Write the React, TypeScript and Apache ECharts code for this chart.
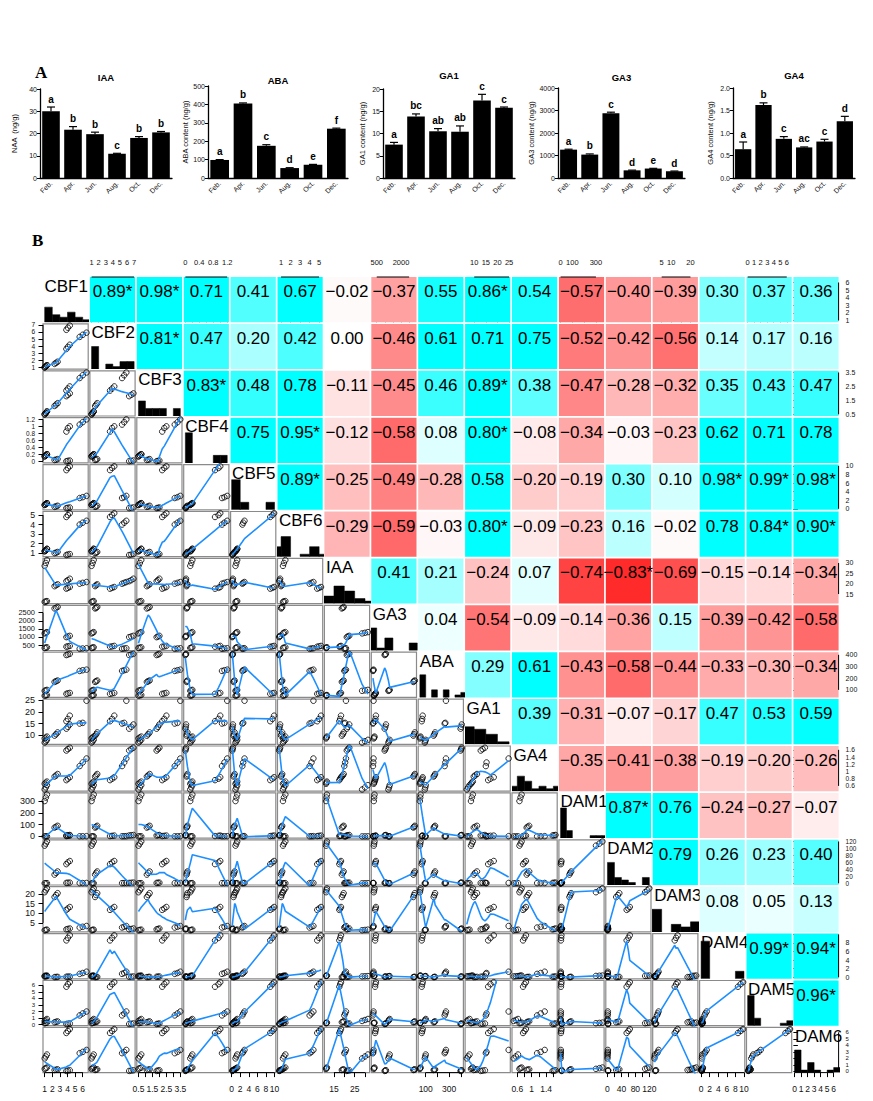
import React, { useEffect, useRef } from "react";
import * as echarts from "echarts";

const FONT = "'Liberation Sans', Arial, Helvetica, sans-serif";
const SERIF = "'Liberation Serif', 'Times New Roman', serif";

// ---------------- Panel A data ----------------
const MONTHS = ["Feb.", "Apr.", "Jun.", "Aug.", "Oct.", "Dec."];
const IAA_MEAN = [30.0, 21.7, 19.7, 10.9, 18.0, 20.5];
const IAA_SE = [1.9, 1.4, 0.9, 0.2, 0.6, 0.4];
const IAA_LETTERS = ["a", "b", "b", "c", "b", "b"];
const ABA_MEAN = [98, 405, 175, 54, 72, 268];
const ABA_SE = [2, 3, 6, 2, 2, 3];
const ABA_LETTERS = ["a", "b", "c", "d", "e", "f"];
const GA1_MEAN = [7.5, 13.8, 10.5, 10.4, 17.4, 15.8];
const GA1_SE = [0.5, 0.6, 0.6, 1.3, 1.4, 0.15];
const GA1_LETTERS = ["a", "bc", "ab", "ab", "c", "c"];
const GA3_MEAN = [1260, 1040, 2880, 340, 420, 300];
const GA3_SE = [20, 30, 45, 10, 10, 10];
const GA3_LETTERS = ["a", "b", "c", "d", "e", "d"];
const GA4_MEAN = [0.64, 1.62, 0.87, 0.68, 0.81, 1.26];
const GA4_SE = [0.16, 0.05, 0.05, 0.01, 0.05, 0.11];
const GA4_LETTERS = ["a", "b", "c", "ac", "c", "d"];

const PANELS = [
  { title: "IAA", yName: "NAA  (ng/g)", mean: IAA_MEAN, se: IAA_SE, letters: IAA_LETTERS, max: 40, interval: 10, dec: 0 },
  { title: "ABA", yName: "ABA content (ng/g)", mean: ABA_MEAN, se: ABA_SE, letters: ABA_LETTERS, max: 500, interval: 100, dec: 0 },
  { title: "GA1", yName: "GA1 content (ng/g)", mean: GA1_MEAN, se: GA1_SE, letters: GA1_LETTERS, max: 20, interval: 5, dec: 0 },
  { title: "GA3", yName: "GA3 content (ng/g)", mean: GA3_MEAN, se: GA3_SE, letters: GA3_LETTERS, max: 4000, interval: 1000, dec: 0 },
  { title: "GA4", yName: "GA4 content (ng/g)", mean: GA4_MEAN, se: GA4_SE, letters: GA4_LETTERS, max: 2, interval: 0.5, dec: 1 },
];

// layout of panel A (pixels)
const A_LAYOUT = [
  { left: 40, top: 89, width: 132, height: 89, nameGap: 22, titleY: 72 },
  { left: 208, top: 86, width: 140, height: 92, nameGap: 19, titleY: 75 },
  { left: 383, top: 89, width: 132, height: 89, nameGap: 17, titleY: 70 },
  { left: 558, top: 88, width: 127, height: 90, nameGap: 23, titleY: 72 },
  { left: 733, top: 88, width: 122, height: 90, nameGap: 19, titleY: 70 },
];

// ---------------- Panel B data ----------------
// samples: Feb x3, Apr x3, Jun x3, Aug x3, Oct x3, Dec x3
const VARS = ["CBF1", "CBF2", "CBF3", "CBF4", "CBF5", "CBF6", "IAA", "GA3", "ABA", "GA1", "GA4", "DAM1", "DAM2", "DAM3", "DAM4", "DAM5", "DAM6"];
const S_CBF1 = [1.0, 1.15, 1.3, 3.85, 4.05, 4.3, 2.3, 2.5, 2.7, 1.0, 1.15, 1.3, 3.85, 4.05, 4.3, 5.6, 6.0, 6.5];
const S_CBF2 = [1.0, 1.15, 1.3, 6.3, 6.6, 6.9, 1.5, 1.65, 1.8, 1.0, 1.15, 1.3, 3.6, 3.9, 4.2, 5.3, 5.6, 5.9];
const S_CBF3 = [0.5, 0.6, 0.7, 1.8, 1.9, 2.0, 1.1, 1.2, 1.3, 0.5, 0.6, 0.7, 2.2, 2.35, 2.5, 3.1, 3.3, 3.5];
const S_CBF4 = [0.14, 0.17, 0.2, 0.0, 0.01, 0.02, 0.035, 0.045, 0.06, 0.14, 0.17, 0.2, 0.85, 0.95, 1.0, 1.05, 1.12, 1.2];
const S_CBF5 = [0.9, 1.1, 1.3, 0.15, 0.22, 0.3, 0.45, 0.55, 0.7, 0.9, 1.1, 1.3, 9.0, 9.5, 9.9, 2.5, 2.7, 3.0];
const S_CBF6 = [1.2, 1.3, 1.45, 0.8, 0.85, 0.9, 1.0, 1.05, 1.12, 1.2, 1.3, 1.45, 4.8, 5.0, 5.2, 4.0, 4.2, 4.4];
const S_IAA = [28.6, 30.0, 31.4, 21.2, 21.7, 22.4, 18.8, 19.3, 19.7, 11.2, 11.4, 11.6, 17.6, 18.0, 18.4, 20.0, 20.4, 20.8];
const S_GA3 = [1220, 1260, 1300, 990, 1030, 1070, 2760, 2800, 2850, 320, 340, 365, 400, 420, 450, 270, 290, 305];
const S_ABA = [92, 96, 100, 398, 403, 408, 168, 174, 180, 50, 53, 56, 66, 70, 74, 262, 268, 273];
const S_GA1 = [6.8, 7.4, 8.0, 12.8, 13.6, 14.6, 9.8, 10.4, 11.2, 8.6, 9.0, 9.4, 16.0, 17.0, 18.4, 15.0, 15.3, 24.8];
const S_GA4 = [0.5, 0.56, 0.62, 1.58, 1.62, 1.66, 0.86, 0.89, 0.93, 0.66, 0.69, 0.72, 0.76, 0.8, 0.84, 1.15, 1.25, 1.36];
const S_DAM1 = [0, 0.3, 0.6, 8, 10, 12, 75, 82, 90, 300, 330, 355, 3, 5, 7, 1, 1.5, 2.2];
const S_DAM2 = [0, 0.2, 0.4, 1.2, 1.6, 2.0, 25, 30, 34, 108, 114, 120, 55, 60, 64, 0.6, 0.8, 1.0];
const S_DAM3 = [1.2, 1.35, 1.5, 1.65, 1.85, 2.1, 18.5, 19.5, 20.5, 21, 22, 23, 11.8, 12.5, 13.3, 2.6, 3.0, 3.4];
const S_DAM4 = [0.2, 0.24, 0.28, 0.12, 0.15, 0.18, 0.04, 0.07, 0.1, 0.32, 0.36, 0.4, 8.6, 9.2, 9.8, 0.8, 1.0, 1.3];
const S_DAM5 = [0.55, 0.7, 0.85, 0.08, 0.12, 0.16, 0.35, 0.42, 0.48, 0.2, 0.25, 0.3, 5.8, 6.2, 6.5, 1.4, 1.7, 2.0];
const S_DAM6 = [2.0, 2.3, 2.6, 0.08, 0.13, 0.18, 0.22, 0.27, 0.32, 0.4, 0.5, 0.6, 5.9, 6.2, 6.5, 2.8, 3.0, 3.3];
const SAMPLES = [S_CBF1, S_CBF2, S_CBF3, S_CBF4, S_CBF5, S_CBF6, S_IAA, S_GA3, S_ABA, S_GA1, S_GA4, S_DAM1, S_DAM2, S_DAM3, S_DAM4, S_DAM5, S_DAM6];

const TICKS = [
  [1, 2, 3, 4, 5, 6],
  [1, 2, 3, 4, 5, 6, 7],
  [0.5, 1, 1.5, 2, 2.5, 3, 3.5],
  [0, 0.2, 0.4, 0.6, 0.8, 1, 1.2],
  [0, 2, 4, 6, 8, 10],
  [1, 2, 3, 4, 5],
  [15, 20, 25, 30],
  [500, 1000, 1500, 2000, 2500],
  [100, 200, 300, 400],
  [10, 15, 20, 25],
  [0.6, 0.8, 1, 1.2, 1.4, 1.6],
  [0, 100, 200, 300],
  [0, 20, 40, 60, 80, 100, 120],
  [5, 10, 15, 20],
  [0, 2, 4, 6, 8, 10],
  [0, 1, 2, 3, 4, 5, 6],
  [0, 1, 2, 3, 4, 5, 6],
];
const H_LABELS = [
  [1, 2, 3, 4, 5, 6],
  [1, 2, 3, 4, 5, 6, 7],
  [0.5, 1.5, 2.5, 3.5],
  [0, 0.4, 0.8, 1.2],
  [0, 2, 4, 6, 8, 10],
  [1, 2, 3, 4, 5],
  [15, 25],
  [500, 2000],
  [100, 300],
  [10, 15, 20, 25],
  [0.6, 1, 1.4],
  [0, 100, 300],
  [0, 40, 80, 120],
  [5, 10, 20],
  [0, 2, 4, 6, 8, 10],
  [0, 1, 2, 3, 4, 5, 6],
  [0, 1, 2, 3, 4, 5, 6],
];
const V_LABELS = [
  [1, 2, 3, 4, 5, 6],
  [1, 2, 3, 4, 5, 6, 7],
  [0.5, 1.5, 2.5, 3.5],
  [0, 0.2, 0.4, 0.6, 0.8, 1, 1.2],
  [0, 2, 4, 6, 8, 10],
  [1, 2, 3, 4, 5],
  [15, 20, 25, 30],
  [500, 1000, 1500, 2000, 2500],
  [100, 200, 300, 400],
  [10, 15, 20, 25],
  [0.6, 0.8, 1, 1.2, 1.4, 1.6],
  [0, 100, 200, 300],
  [0, 20, 40, 60, 80, 100, 120],
  [5, 10, 15, 20],
  [0, 2, 4, 6, 8],
  [0, 1, 2, 3, 4, 5, 6],
  [0, 1, 2, 3, 4, 5, 6],
];

// correlation coefficients shown in the upper triangle (row i, columns i+1..16)
const COR = [
  ["0.89*", "0.98*", "0.71", "0.41", "0.67", "\u22120.02", "\u22120.37", "0.55", "0.86*", "0.54", "\u22120.57", "\u22120.40", "\u22120.39", "0.30", "0.37", "0.36"],
  ["0.81*", "0.47", "0.20", "0.42", "0.00", "\u22120.46", "0.61", "0.71", "0.75", "\u22120.52", "\u22120.42", "\u22120.56", "0.14", "0.17", "0.16"],
  ["0.83*", "0.48", "0.78", "\u22120.11", "\u22120.45", "0.46", "0.89*", "0.38", "\u22120.47", "\u22120.28", "\u22120.32", "0.35", "0.43", "0.47"],
  ["0.75", "0.95*", "\u22120.12", "\u22120.58", "0.08", "0.80*", "\u22120.08", "\u22120.34", "\u22120.03", "\u22120.23", "0.62", "0.71", "0.78"],
  ["0.89*", "\u22120.25", "\u22120.49", "\u22120.28", "0.58", "\u22120.20", "\u22120.19", "0.30", "0.10", "0.98*", "0.99*", "0.98*"],
  ["\u22120.29", "\u22120.59", "\u22120.03", "0.80*", "\u22120.09", "\u22120.23", "0.16", "\u22120.02", "0.78", "0.84*", "0.90*"],
  ["0.41", "0.21", "\u22120.24", "0.07", "\u22120.74", "\u22120.83*", "\u22120.69", "\u22120.15", "\u22120.14", "\u22120.34"],
  ["0.04", "\u22120.54", "\u22120.09", "\u22120.14", "\u22120.36", "0.15", "\u22120.39", "\u22120.42", "\u22120.58"],
  ["0.29", "0.61", "\u22120.43", "\u22120.58", "\u22120.44", "\u22120.33", "\u22120.30", "\u22120.34"],
  ["0.39", "\u22120.31", "\u22120.07", "\u22120.17", "0.47", "0.53", "0.59"],
  ["\u22120.35", "\u22120.41", "\u22120.38", "\u22120.19", "\u22120.20", "\u22120.26"],
  ["0.87*", "0.76", "\u22120.24", "\u22120.27", "\u22120.07"],
  ["0.79", "0.26", "0.23", "0.40"],
  ["0.08", "0.05", "0.13"],
  ["0.99*", "0.94*"],
  ["0.96*"],
];

// ---------------- helpers ----------------
function fmtNum(v: any) {
  return String(parseFloat(Number(v).toFixed(6)));
}
function extRange(v: number[]) {
  const mn = Math.min(...v), mx = Math.max(...v);
  const d = (mx - mn) * 0.04;
  return [mn - d, mx + d];
}
function corColor(v: number) {
  if (v >= 0) {
    const t = Math.min(1, v / 0.6);
    const g = Math.round(255 * (1 - t));
    return `rgb(${g},255,255)`;
  }
  const t = Math.min(1, -v);
  const g = Math.round(255 * (1 - t));
  return `rgb(255,${g},${g})`;
}
function prettyBreaks(lo: number, up: number, ndiv: number) {
  const h = 1.5, h5 = 0.5 + 1.5 * h;
  const dx = up - lo;
  const cell = dx === 0 ? Math.max(Math.abs(lo), 1) : dx / ndiv;
  const base = Math.pow(10, Math.floor(Math.log10(cell)));
  let unit = base;
  if (2 * base - cell < h * (cell - unit)) {
    unit = 2 * base;
    if (5 * base - cell < h5 * (cell - unit)) {
      unit = 5 * base;
      if (10 * base - cell < h * (cell - unit)) unit = 10 * base;
    }
  }
  const ns = Math.floor(lo / unit + 1e-7), nu = Math.ceil(up / unit - 1e-7);
  const out: number[] = [];
  for (let k = ns; k <= nu; k++) out.push(+(k * unit).toFixed(10));
  return out;
}
function histBins(v: number[]) {
  const lo = Math.min(...v), hi = Math.max(...v);
  const nclass = Math.ceil(Math.log2(v.length) + 1);
  const br = prettyBreaks(lo, hi, nclass);
  const counts = new Array(br.length - 1).fill(0);
  v.forEach((x) => {
    for (let k = 0; k < br.length - 1; k++) {
      if (x <= br[k + 1] + 1e-9) { counts[k]++; break; }
    }
  });
  return counts.map((c, k) => [br[k], br[k + 1], c]).filter((d) => d[2] > 0);
}
// port of R's clowess (f = 2/3, iter = 3, delta = 1% of range)
function lowess(xIn: number[], yIn: number[], f = 2 / 3, nsteps = 3) {
  const n = xIn.length;
  const idx = xIn.map((_, i) => i).sort((a, b) => xIn[a] - xIn[b]);
  const x = idx.map((i) => xIn[i]);
  const y = idx.map((i) => yIn[i]);
  const ns = Math.max(2, Math.min(n, Math.floor(f * n + 1e-7)));
  const range = x[n - 1] - x[0];
  const delta = 0.01 * range;
  const ys = new Array(n).fill(0);
  const rw = new Array(n).fill(1);
  const res = new Array(n).fill(0);
  const fitAt = (i: number, nleft: number, nright: number, useRw: boolean) => {
    const xs = x[i];
    const hh = Math.max(xs - x[nleft], x[nright] - xs);
    const h9 = 0.999 * hh, h1 = 0.001 * hh;
    const w = new Array(n).fill(0);
    let a = 0;
    let j = nleft;
    while (j < n) {
      const r = Math.abs(x[j] - xs);
      if (r <= h9) {
        let wj = r <= h1 ? 1 : Math.pow(1 - Math.pow(r / hh, 3), 3);
        if (useRw) wj *= rw[j];
        w[j] = wj;
        a += wj;
      } else if (x[j] > xs) break;
      j++;
    }
    const nrt = j - 1;
    if (a <= 0) return null;
    for (let k = nleft; k <= nrt; k++) w[k] /= a;
    if (hh > 0) {
      let mx = 0;
      for (let k = nleft; k <= nrt; k++) mx += w[k] * x[k];
      let c = 0;
      for (let k = nleft; k <= nrt; k++) c += w[k] * (x[k] - mx) * (x[k] - mx);
      if (Math.sqrt(c) > 0.001 * range) {
        const b = (xs - mx) / c;
        for (let k = nleft; k <= nrt; k++) w[k] *= b * (x[k] - mx) + 1;
      }
    }
    let s = 0;
    for (let k = nleft; k <= nrt; k++) s += w[k] * y[k];
    return s;
  };
  for (let iter = 1; iter <= nsteps + 1; iter++) {
    let nleft = 0, nright = ns - 1, last = -1, i = 0;
    let guard = 0;
    for (;;) {
      if (++guard > 10000) break;
      if (nright < n - 1) {
        const d1 = x[i] - x[nleft], d2 = x[nright + 1] - x[i];
        if (d1 > d2) { nleft++; nright++; continue; }
      }
      const v = fitAt(i, nleft, nright, iter > 1);
      ys[i] = v === null ? y[i] : v;
      if (last < i - 1) {
        const denom = x[i] - x[last];
        for (let j = last + 1; j < i; j++) {
          const alpha = (x[j] - x[last]) / denom;
          ys[j] = alpha * ys[i] + (1 - alpha) * ys[last];
        }
      }
      last = i;
      const cut = x[last] + delta;
      for (i = last + 1; i < n; i++) {
        if (x[i] > cut) break;
        if (x[i] === x[last]) { ys[i] = ys[last]; last = i; }
      }
      i = Math.max(last + 1, i - 1);
      if (last >= n - 1) break;
    }
    for (let k = 0; k < n; k++) res[k] = y[k] - ys[k];
    const sc = res.reduce((s, v) => s + Math.abs(v), 0) / n;
    if (iter > nsteps) break;
    const absr = res.map(Math.abs).sort((a, b) => a - b);
    const m1 = Math.floor(n / 2);
    const cmad = n % 2 === 0 ? 3 * (absr[m1] + absr[n - m1 - 1]) : 6 * absr[m1];
    if (cmad < 1e-7 * sc) break;
    const c9 = 0.999 * cmad, c1 = 0.001 * cmad;
    for (let k = 0; k < n; k++) {
      const r = Math.abs(res[k]);
      rw[k] = r <= c1 ? 1 : r <= c9 ? Math.pow(1 - (r / cmad) * (r / cmad), 2) : 0;
    }
  }
  return x.map((xv, k) => [xv, ys[k]]);
}

function buildOption() {
  const grids: any[] = [];
  const xAxes: any[] = [];
  const yAxes: any[] = [];
  const series: any[] = [];
  const graphics: any[] = [];
  const addGrid = (g: any, xa: any, ya: any) => {
    grids.push(g);
    const gi = grids.length - 1;
    xAxes.push({ ...xa, gridIndex: gi });
    yAxes.push({ ...ya, gridIndex: gi });
    return gi;
  };
  const hid = (min: number, max: number, extra: any = {}) => ({ type: "value", min, max, show: false, ...extra });

  // ---------------- Panel A ----------------
  graphics.push({ type: "text", x: 35, y: 64, style: { text: "A", fontSize: 17, fontWeight: "bold", fontFamily: SERIF, fill: "#000" } });
  PANELS.forEach((p, k) => {
    const L = A_LAYOUT[k];
    const gi = addGrid(
      { left: L.left, top: L.top, width: L.width, height: L.height },
      {
        type: "category", data: MONTHS, boundaryGap: true,
        axisLine: { show: true, lineStyle: { color: "#000", width: 1.3 } },
        axisTick: { show: false },
        axisLabel: { rotate: 45, fontSize: 7, color: "#111", margin: 4, fontFamily: FONT, interval: 0 },
        splitLine: { show: false },
      },
      {
        type: "value", min: 0, max: p.max, interval: p.interval,
        name: p.yName, nameLocation: "middle", nameGap: L.nameGap, nameRotate: 90,
        nameTextStyle: { fontSize: 7.5, fontFamily: FONT, color: "#111" },
        axisLine: { show: true, lineStyle: { color: "#000", width: 1.3 } },
        axisTick: { show: true, length: 3, lineStyle: { color: "#000", width: 1 } },
        axisLabel: { fontSize: 7, margin: 3, color: "#111", fontFamily: FONT, formatter: (v: number) => v.toFixed(p.dec) },
        splitLine: { show: false },
      }
    );
    series.push({ type: "bar", xAxisIndex: gi, yAxisIndex: gi, data: p.mean, barWidth: "80%", itemStyle: { color: "#000" }, silent: true });
    series.push({
      type: "custom", xAxisIndex: gi, yAxisIndex: gi, silent: true, z: 5,
      data: p.mean.map((m, i) => [i, m, p.se[i]]),
      renderItem: (params: any, api: any) => {
        const i = api.value(0), m = api.value(1), e = api.value(2);
        const b = api.coord([i, m]);
        const t = api.coord([i, m + e]);
        const letter = p.letters[params.dataIndex];
        return {
          type: "group",
          children: [
            { type: "line", shape: { x1: b[0], y1: b[1], x2: t[0], y2: t[1] }, style: { stroke: "#000", lineWidth: 1.2 } },
            { type: "line", shape: { x1: t[0] - 4, y1: t[1], x2: t[0] + 4, y2: t[1] }, style: { stroke: "#000", lineWidth: 1.2 } },
            { type: "text", x: t[0], y: t[1] - 3, style: { text: letter, fontSize: 10, fontWeight: "bold", fontFamily: FONT, fill: "#000", align: "center", verticalAlign: "bottom", textAlign: "center", textVerticalAlign: "bottom" } },
          ],
        };
      },
    });
    graphics.push({ type: "text", x: L.left + L.width / 2, y: L.titleY, style: { text: p.title, fontSize: 9.5, fontWeight: "bold", fontFamily: FONT, fill: "#000", textAlign: "center", align: "center" } });
  });

  // ---------------- Panel B ----------------
  graphics.push({ type: "text", x: 32, y: 232, style: { text: "B", fontSize: 17, fontWeight: "bold", fontFamily: SERIF, fill: "#000" } });
  const NV = VARS.length;
  const X0 = 43, Y0 = 277, P = 46.9, S = 45.2;
  const cl = (c: number) => X0 + c * P;
  const ct = (r: number) => Y0 + r * P;
  const R = SAMPLES.map(extRange);
  const tickStyle = { color: "#000", width: 1 };
  const edgeLine = (gi: number, pts: number[][]) =>
    series.push({ type: "line", xAxisIndex: gi, yAxisIndex: gi, data: pts, showSymbol: false, symbol: "none", clip: false, silent: true, lineStyle: { color: "#000", width: 1 }, z: 4 });
  const fitFont = (k: number, labels: number[][], maxF: number) => {
    const pxPer = S / (R[k][1] - R[k][0]);
    const labs = labels[k];
    let gap = Infinity;
    for (let i = 0; i + 1 < labs.length; i++) gap = Math.min(gap, (labs[i + 1] - labs[i]) * pxPer);
    return Math.max(5.5, Math.min(maxF, gap * 0.92));
  };

  // upper triangle: one grid spanning the matrix, cells drawn by a custom series
  const heat = addGrid(
    { left: X0, top: Y0, width: NV * P, height: NV * P },
    hid(0, NV),
    hid(0, NV, { inverse: true })
  );
  const heatData: any[] = [];
  const labelsFlat: string[] = [];
  COR.forEach((row, i) => row.forEach((s, k) => {
    const v = parseFloat(s.replace("\u2212", "-").replace("*", ""));
    heatData.push([i + 1 + k, i, v]);
    labelsFlat.push(s);
  }));
  const FR = S / P;
  series.push({
    type: "custom", xAxisIndex: heat, yAxisIndex: heat, silent: true, data: heatData, z: 1,
    renderItem: (params: any, api: any) => {
      const c = api.value(0), r = api.value(1), v = api.value(2);
      const p1 = api.coord([c, r]);
      const p2 = api.coord([c + FR, r + FR]);
      const x = Math.min(p1[0], p2[0]), y = Math.min(p1[1], p2[1]);
      const w = Math.abs(p2[0] - p1[0]), h = Math.abs(p2[1] - p1[1]);
      return {
        type: "group",
        children: [
          { type: "rect", shape: { x, y, width: w, height: h }, style: { fill: corColor(v) } },
          { type: "text", x: x + w / 2, y: y + 14.5, style: { text: labelsFlat[params.dataIndex], fontSize: 17, fontFamily: FONT, fill: "#000", align: "center", verticalAlign: "middle", textAlign: "center", textVerticalAlign: "middle" } },
        ],
      };
    },
  });

  // lower triangle + diagonal
  for (let r = 0; r < NV; r++) {
    for (let c = 0; c <= r; c++) {
      if (r > c) {
        const gi = addGrid(
          { left: cl(c), top: ct(r), width: S, height: S, show: true, borderColor: "#8a8a8a", borderWidth: 1.2, backgroundColor: "transparent" },
          hid(R[c][0], R[c][1]),
          hid(R[r][0], R[r][1])
        );
        const pts = SAMPLES[c].map((xv, k) => [xv, SAMPLES[r][k]]);
        series.push({
          type: "scatter", xAxisIndex: gi, yAxisIndex: gi, data: pts, symbol: "circle", symbolSize: 5.5, silent: true, z: 2,
          itemStyle: { color: "rgba(0,0,0,0)", borderColor: "#000", borderWidth: 1 },
        });
        series.push({
          type: "line", xAxisIndex: gi, yAxisIndex: gi, data: lowess(SAMPLES[c], SAMPLES[r]), showSymbol: false, symbol: "none", clip: true, silent: true, z: 3,
          lineStyle: { color: "#1E8FFF", width: 1.6 },
        });
      } else {
        const gi = addGrid(
          { left: cl(c), top: ct(r), width: S, height: S },
          hid(R[c][0], R[c][1]),
          hid(0, 18)
        );
        series.push({
          type: "custom", xAxisIndex: gi, yAxisIndex: gi, silent: true, clip: true, z: 2,
          data: histBins(SAMPLES[c]),
          renderItem: (params: any, api: any) => {
            const p1 = api.coord([api.value(0), api.value(2)]);
            const p2 = api.coord([api.value(1), 0]);
            return { type: "rect", shape: { x: p1[0], y: p1[1], width: p2[0] - p1[0], height: p2[1] - p1[1] }, style: { fill: "#000", stroke: "#000", lineWidth: 0.5 } };
          },
        });
        graphics.push({ type: "text", x: cl(c) + 1.5, y: ct(r) + 0.5, z: -1, style: { text: VARS[c], fontSize: 17, fontFamily: FONT, fill: "#000", verticalAlign: "top", textVerticalAlign: "top" } });
      }
    }
  }

  // outer axes (R pairs style: alternating sides)
  for (let c = 0; c < NV; c++) {
    const t = TICKS[c];
    const top = c % 2 === 1;
    const gi = addGrid(
      { left: cl(c), top: top ? ct(0) : ct(NV - 1), width: S, height: S },
      {
        type: "value", min: R[c][0], max: R[c][1], position: top ? "top" : "bottom",
        axisLine: { show: false }, splitLine: { show: false },
        axisTick: { show: true, length: 4.5, customValues: t, lineStyle: tickStyle },
        axisLabel: {
          show: true, customValues: H_LABELS[c], showMinLabel: true, showMaxLabel: true,
          fontSize: top ? 7.5 : 8.5, margin: top ? 11 : 12, color: "#111", fontFamily: FONT, formatter: fmtNum,
        },
      },
      hid(0, 1)
    );
    edgeLine(gi, [[t[0], top ? 1 : 0], [t[t.length - 1], top ? 1 : 0]]);
  }
  for (let r = 0; r < NV; r++) {
    const t = TICKS[r];
    const left = r % 2 === 1;
    const gi = addGrid(
      { left: left ? cl(0) : cl(NV - 1), top: ct(r), width: S, height: S },
      hid(0, 1),
      {
        type: "value", min: R[r][0], max: R[r][1], position: left ? "left" : "right",
        axisLine: { show: false }, splitLine: { show: false },
        axisTick: { show: true, length: 4.5, customValues: t, lineStyle: tickStyle },
        axisLabel: {
          show: true, customValues: V_LABELS[r], showMinLabel: true, showMaxLabel: true,
          fontSize: fitFont(r, V_LABELS, left ? 9 : 7), margin: left ? 8 : 7, color: "#111", fontFamily: FONT, formatter: fmtNum,
        },
      }
    );
    edgeLine(gi, [[left ? 0 : 1, t[0]], [left ? 0 : 1, t[t.length - 1]]]);
  }

  return {
    animation: false,
    backgroundColor: "#fff",
    textStyle: { fontFamily: FONT },
    grid: grids,
    xAxis: xAxes,
    yAxis: yAxes,
    series,
    graphic: { elements: graphics },
  };
}

export default function App() {
  const ref = useRef<HTMLDivElement>(null);
  useEffect(() => {
    if (!ref.current) return;
    const chart = echarts.init(ref.current, undefined, { renderer: "svg", width: 873, height: 1101 });
    chart.setOption(buildOption() as any);
    return () => chart.dispose();
  }, []);
  return <div ref={ref} style={{ position: "absolute", left: 0, top: 0, width: 873, height: 1101, background: "#fff" }} />;
}
